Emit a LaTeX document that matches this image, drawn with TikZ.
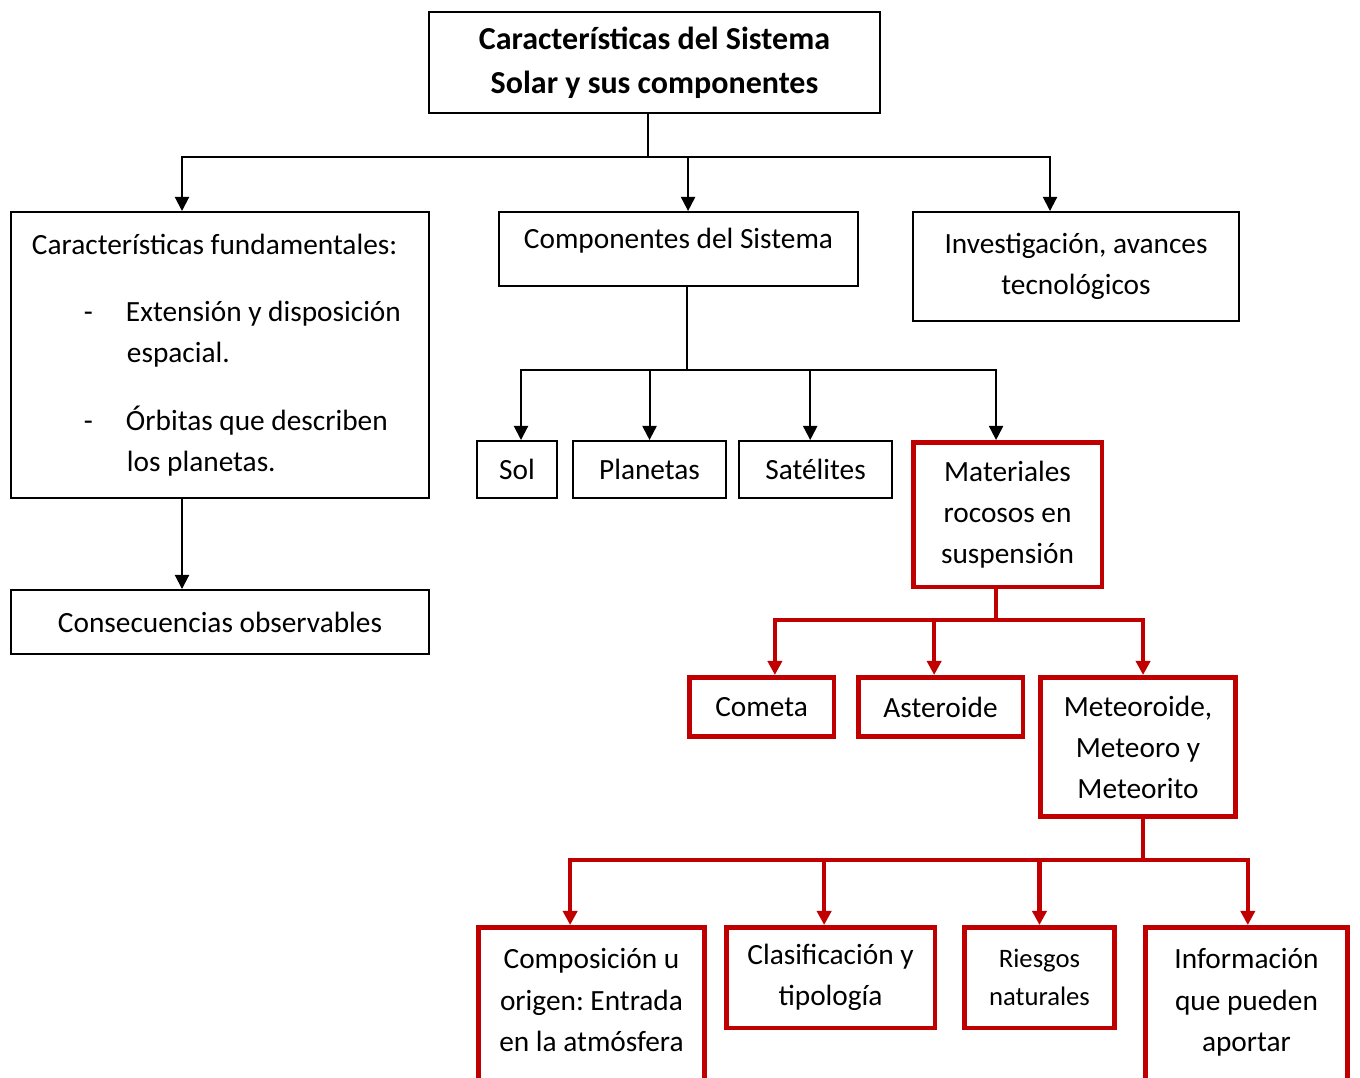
\documentclass[tikz,border=0pt]{standalone}
\usepackage{fontspec}
\setmainfont{Carlito}
\usepackage{tikz}
\usetikzlibrary{arrows.meta}
\definecolor{darkred}{HTML}{C00000}
\frenchspacing
\tikzset{
    >={Triangle[length=5.3pt,width=5.3pt]},
    box/.style={draw, line width=0.75pt, anchor=north west, align=center, inner sep=0pt, font=\fontsize{11}{15.4}\selectfont},
    redbox/.style={box, draw=darkred, line width=1.7pt},
    link/.style={line width=0.75pt},
    redlink/.style={color=darkred, line width=1.7pt}}

\begin{document}
\begin{tikzpicture}[x=0.375pt, y=-0.375pt]
    \useasboundingbox (0,0) rectangle (1360,1077);
    \clip (0,0) rectangle (1360,1077);

    \node[box, minimum width=169.1pt, minimum height=37.9pt, font=\fontsize{12}{16.5}\selectfont\bfseries] (titulo) at (428,11) {Características del Sistema\\Solar y sus componentes};

    \node[box, minimum width=156.75pt, minimum height=107.25pt, text width=141pt, align=flush left] (fund) at (10,211) {Características fundamentales:\\[10pt]
        \makebox[35.25pt][l]{\hspace*{19.5pt}-}Extensión y disposición\\
        \hspace*{35.6pt}espacial.\\[10pt]
        \makebox[35.25pt][l]{\hspace*{19.5pt}-}Órbitas que describen\\
        \hspace*{35.6pt}los planetas.};
    \node[box, minimum width=156.75pt, minimum height=24pt] (consec) at (10,589) {Consecuencias observables};
    \node[box, minimum width=134.6pt, minimum height=27.75pt] (comp) at (498,211) {Componentes del Sistema\\[-12pt]\strut};
    \node[box, minimum width=122.25pt, minimum height=40.9pt] (inv) at (912,211) {Investigación, avances\\tecnológicos};

    \node[box, minimum width=30pt, minimum height=21.4pt] (sol) at (476,440) {Sol};
    \node[box, minimum width=57.4pt, minimum height=21.4pt] (plan) at (572,440) {Planetas};
    \node[box, minimum width=57.4pt, minimum height=21.4pt] (sat) at (738,440) {Satélites};
    \node[redbox, minimum width=70.7pt, minimum height=54.2pt] (mat) at (911,440) {Materiales\\rocosos en\\suspensión};

    \node[redbox, minimum width=54.2pt, minimum height=22.3pt] (cometa) at (687,675) {Cometa};
    \node[redbox, minimum width=61.7pt, minimum height=22.3pt] (ast) at (856,675) {Asteroide};
    \node[redbox, minimum width=73.3pt, minimum height=52.3pt] (meteo) at (1038,675) {Meteoroide,\\Meteoro y\\Meteorito};

    \node[redbox, minimum width=84.9pt, minimum height=74.5pt] (compo) at (476,925) {Composición u\\origen: Entrada\\en la atmósfera\\\strut};
    \node[redbox, minimum width=78.2pt, minimum height=37.7pt] (clas) at (724,925) {Clasificación y\\tipología};
    \node[redbox, minimum width=56.4pt, minimum height=37.7pt, font=\fontsize{10}{14.25}\selectfont] (riesgos) at (962,925) {Riesgos\\naturales};
    \node[redbox, minimum width=75.9pt, minimum height=74.5pt] (info) at (1143,925) {Información\\que pueden\\aportar\\\strut};

    % primer nivel
    \coordinate (t1) at (648,157);
    \draw[link] (titulo.south -| t1) -- (t1);
    \draw[link, ->] (t1) -| ([xshift=-14.25pt]fund.north);
    \draw[link, ->] (t1) -| ([xshift=3.6pt]comp.north);
    \draw[link, ->] (t1) -| ([xshift=-9.75pt]inv.north);
    \draw[link, ->] ([xshift=-14.25pt]fund.south) -- ([xshift=-14.25pt]consec.north);

    % componentes
    \coordinate (c1) at (687,370);
    \draw[link] (comp.south -| c1) -- (c1);
    \draw[link, ->] (c1) -| ([xshift=1.5pt]sol.north);
    \draw[link, ->] (c1) -| (plan.north);
    \draw[link, ->] (c1) -| ([xshift=-2pt]sat.north);
    \draw[link, ->] (c1) -| ([xshift=-4.3pt]mat.north);

    % materiales rocosos
    \coordinate (m1) at (996,620);
    \draw[redlink] (mat.south -| m1) -- (m1);
    \draw[redlink, ->] (m1) -| ([xshift=5pt]cometa.north);
    \draw[redlink, ->] (m1) -| ([xshift=-2.4pt]ast.north);
    \draw[redlink, ->] (m1) -| ([xshift=1.9pt]meteo.north);

    % meteoroides
    \coordinate (m2) at (1143,860);
    \draw[redlink] (meteo.south -| m2) -- (m2);
    \draw[redlink, ->] (m2) -| ([xshift=-8pt]compo.north);
    \draw[redlink, ->] (m2) -| ([xshift=-2.4pt]clas.north);
    \draw[redlink, ->] (m2) -| (riesgos.north);
    \draw[redlink, ->] (m2) -| ([xshift=0.5pt]info.north);
\end{tikzpicture}
\end{document}
